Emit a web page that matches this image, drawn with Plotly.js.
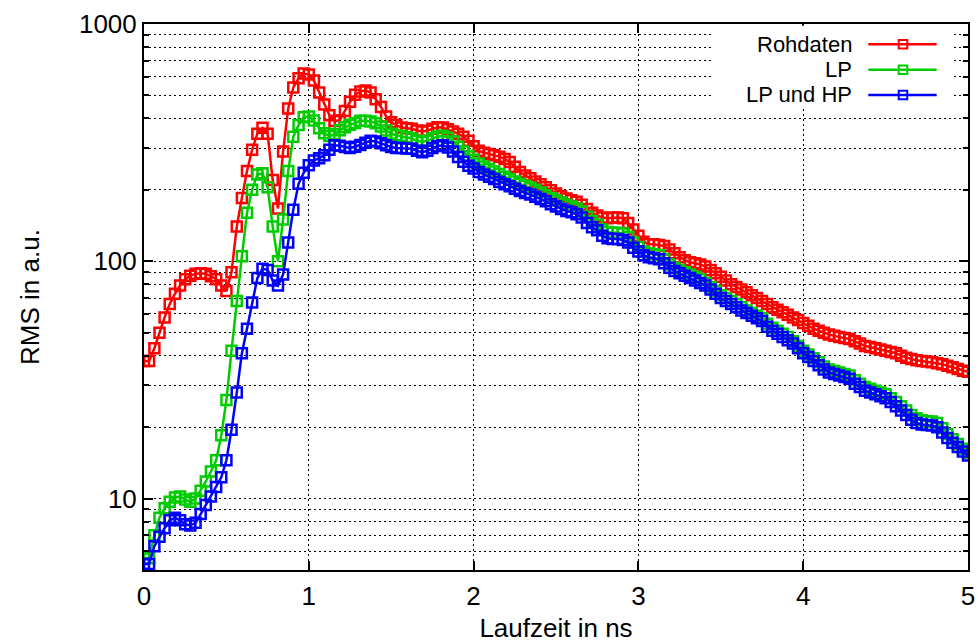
<!DOCTYPE html>
<html>
<head>
<meta charset="utf-8">
<script src="https://cdn.plot.ly/plotly-3.0.1.min.js"></script>
<style>html,body{margin:0;padding:0;background:#fff;}#chart{width:979px;height:643px;}</style>
</head>
<body>
<div id="chart"></div>
<script>
// Laufzeit (ns)
var laufzeit = [
0,0.031,0.063,0.094,0.125,0.156,0.188,0.219,0.25,0.281,0.313,0.344,0.375,0.406,0.438,0.469,
0.5,0.531,0.563,0.594,0.625,0.656,0.688,0.719,0.75,0.781,0.813,0.844,0.875,0.906,0.938,0.969,
1,1.031,1.063,1.094,1.125,1.156,1.188,1.219,1.25,1.281,1.313,1.344,1.375,1.406,1.438,1.469,
1.5,1.531,1.563,1.594,1.625,1.656,1.688,1.719,1.75,1.781,1.813,1.844,1.875,1.906,1.938,1.969,
2,2.031,2.063,2.094,2.125,2.156,2.188,2.219,2.25,2.281,2.313,2.344,2.375,2.406,2.438,2.469,
2.5,2.531,2.563,2.594,2.625,2.656,2.688,2.719,2.75,2.781,2.813,2.844,2.875,2.906,2.938,2.969,
3,3.031,3.063,3.094,3.125,3.156,3.188,3.219,3.25,3.281,3.313,3.344,3.375,3.406,3.438,3.469,
3.5,3.531,3.563,3.594,3.625,3.656,3.688,3.719,3.75,3.781,3.813,3.844,3.875,3.906,3.938,3.969,
4,4.031,4.063,4.094,4.125,4.156,4.188,4.219,4.25,4.281,4.313,4.344,4.375,4.406,4.438,4.469,
4.5,4.531,4.563,4.594,4.625,4.656,4.688,4.719,4.75,4.781,4.813,4.844,4.875,4.906,4.938,4.969,
5];

var rohdaten = [
38,38,43,50,58,66,73,79,84,87,88.5,89,88.5,86.5,84,79,
75,90,140,185,240,295,345,365,345,220,167,290,440,540,590,618,
612,578,515,458,413,390,393,430,470,503,520,525,514,482,447,408,
385,375,366,364,362,356,352,355,362,367,366,360,352,345,335,322,
305,292,287,283,280,276,270,262,250,238,230,224,217,211,205,199,
193,188,184,181,178,173,166,160,156,153,152,153,153,152,145,136,
128,121,118,118,117,116,112,108,104,101,99,98,97,95,92,89,
86,83,80,78,76,74,72,70,68,66,64,62.5,61,59.5,58,56.5,
55,53.5,52,51,50,49.2,48.5,48,47.5,47,46,45,44,43.5,43,42.5,
42,41.5,41,40,39.2,38.7,38.3,38,37.8,37.5,37.2,36.8,36.3,35.8,35.2,34.6,
34.2];

var lp = [
5.6,5.6,7.0,8.3,9.1,9.7,10.1,10.2,9.9,9.7,10.0,10.8,11.8,13.0,14.5,18.5,
26,42,68,105,160,200,232,235,205,140,100,150,240,335,375,405,
408,392,364,346,337,343,357,367,376,383,391,391,388,382,370,356,
345,340,337,333,329,322,318,322,330,336,338,332,320,304,290,278,
268,258,251,245,239,233,227,222,217,212,208,204,200,195,190,185,
181,177,173,170,167,162,154,148,143,136,133,132,132,131,127,120,
115,110,108,107,106,102,97,94,92,90,88,86,84,81,78,75,
72,70,68,66,64,62,60.5,59,57.5,54.5,52.5,51,49.5,48,46,44,
42,40.5,39,37.5,36,35,34.5,34,33.5,33,31.5,30.5,29.5,29,28.5,28,
27.5,26.5,25.5,24.5,23.5,22.5,21.8,21.4,21.2,21.1,20.8,19.8,18.7,17.8,17,16.2,
15.6];

var lpHp = [
5.3,5.3,6.3,6.9,7.5,8.1,8.3,8.1,7.8,7.7,7.9,8.6,9.4,10.2,11.2,12.3,
14.5,19.5,28,41,52,67,85,93,92,83,79,88,120,165,212,236,
254,266,272,280,295,308,307,303,300,304,309,316,322,320,314,308,
303,300,300,299,298,292,288,292,300,306,308,302,290,275,263,253,
246,238,232,227,222,216,211,207,202,198,194,191,187,183,179,174,
170,166,163,161,158,153,145,139,135,128,125,124,124,123,120,114,
110,106,104,103,102,98,94,91,89,87,85,83,81,79,76,73,
70,68,66,64,62,60.5,59,57.5,56,53,51,49.5,48,46.5,45,43,
41,39.5,38,36.5,35,34,33.5,33,32.5,32,30.5,29.5,28.5,28,27.5,27,
26.5,25.5,24.5,23.5,22.5,21.5,20.8,20.5,20.4,20.3,20,19,18,17.2,16.5,15.8,
15.2];

var seriesNames = ["Rohdaten", "LP", "LP und HP"];
var seriesColors = ["#ff0000", "#00cc00", "#0000ff"];
var seriesData = [rohdaten, lp, lpHp];

var xTicks = [0, 1, 2, 3, 4, 5];
var yTicks = [10, 100, 1000];
var yTickText = ["10", "100", "1000"];
var yMinor = [6,7,8,9,20,30,40,50,60,70,80,90,200,300,400,500,600,700,800,900];

var FONT = "Liberation Sans, Arial, sans-serif";

var traces = seriesData.map(function (ys, k) {
  return {
    x: laufzeit, y: ys, name: seriesNames[k], type: "scatter", mode: "lines+markers",
    line: {color: seriesColors[k], width: 2.5},
    marker: {symbol: "square-open", size: 10, color: seriesColors[k], line: {width: 2.5, color: seriesColors[k]}},
    showlegend: false
  };
});

// gnuplot-style key: text, then line sample with a marker
var legY = [0.963, 0.916, 0.870];
var shapes = [{type: "rect", xref: "paper", yref: "paper", x0: 0.69, x1: 0.983, y0: 0.845, y1: 0.997,
  fillcolor: "#ffffff", line: {width: 0}, layer: "above"}];
var annotations = [];
seriesNames.forEach(function (nm, k) {
  shapes.push({type: "line", xref: "paper", yref: "paper", x0: 0.879, x1: 0.962, y0: legY[k], y1: legY[k],
    line: {color: seriesColors[k], width: 2.5}, layer: "above"});
  shapes.push({type: "rect", xref: "paper", yref: "paper", x0: 0.9211 - 0.0052, x1: 0.9211 + 0.0052,
    y0: legY[k] - 0.0078, y1: legY[k] + 0.0078, fillcolor: "rgba(255,255,255,0)",
    line: {color: seriesColors[k], width: 2}, layer: "above"});
  annotations.push({xref: "paper", yref: "paper", x: 0.86, y: legY[k], xanchor: "right", yanchor: "middle",
    text: nm, showarrow: false, borderpad: 0, font: {family: FONT, size: 22, color: "#000"}});
});

var gridDash = "2px,3px";
var layout = {
  width: 979, height: 643,
  margin: {l: 144, r: 11, t: 24, b: 73},
  paper_bgcolor: "#fff", plot_bgcolor: "#fff",
  font: {family: FONT, color: "#000"},
  xaxis: {
    range: [0, 5], tickvals: xTicks, ticks: "inside", ticklen: 9, tickwidth: 2, tickcolor: "#000",
    showline: true, linewidth: 2, linecolor: "#000", mirror: "ticks",
    showgrid: true, gridcolor: "#000", gridwidth: 1, griddash: gridDash, zeroline: false,
    tickfont: {family: FONT, size: 26, color: "#000"}, ticklabelstandoff: 2,
    title: {text: "Laufzeit in ns", font: {family: FONT, size: 26, color: "#000"}, standoff: 12}
  },
  yaxis: {
    type: "log", range: [Math.log10(5), 3], tickvals: yTicks, ticktext: yTickText,
    ticks: "inside", ticklen: 9, tickwidth: 2, tickcolor: "#000",
    showline: true, linewidth: 2, linecolor: "#000", mirror: "allticks",
    showgrid: true, gridcolor: "#000", gridwidth: 1, griddash: gridDash, zeroline: false,
    tickfont: {family: FONT, size: 26, color: "#000"},
    minor: {tickvals: yMinor, ticks: "inside", ticklen: 5, tickwidth: 2, tickcolor: "#000",
      showgrid: true, gridcolor: "#000", gridwidth: 1, griddash: gridDash},
    title: {text: "RMS in a.u.", font: {family: FONT, size: 26, color: "#000"}, standoff: 32}
  },
  shapes: shapes,
  annotations: annotations
};

Plotly.newPlot("chart", traces, layout, {staticPlot: true, displayModeBar: false});
</script>
</body>
</html>
